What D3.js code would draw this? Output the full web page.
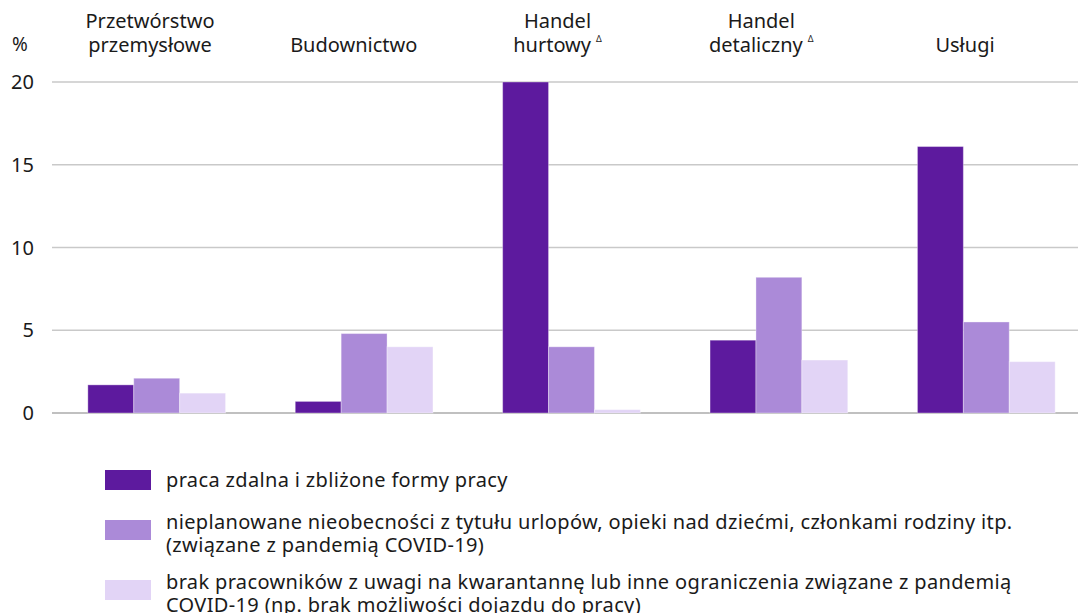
<!DOCTYPE html>
<html>
<head>
<meta charset="utf-8">
<script src="https://cdn.jsdelivr.net/npm/d3@7"></script>
<style>
  body { margin: 0; background: #fff; }
  svg text { font-family: "Noto Sans", "Open Sans", sans-serif; fill: #1a1a1a; }
</style>
</head>
<body>
<svg id="chart" width="1078" height="613"></svg>
<script>
// categories (label lines) and series
const categories = ["Przetwórstwo przemysłowe", "Budownictwo", "Handel hurtowy", "Handel detaliczny", "Usługi"];
const categoryLines = [["Przetwórstwo", "przemysłowe"], ["Budownictwo"], ["Handel", "hurtowy"], ["Handel", "detaliczny"], ["Usługi"]];
const categoryMark = [false, false, true, true, false];

const seriesNames = [
  ["praca zdalna i zbliżone formy pracy"],
  ["nieplanowane nieobecności z tytułu urlopów, opieki nad dziećmi, członkami rodziny itp.", "(związane z pandemią COVID-19)"],
  ["brak pracowników z uwagi na kwarantannę lub inne ograniczenia związane z pandemią", "COVID-19 (np. brak możliwości dojazdu do pracy)"]
];
const remoteWork = [1.7, 0.7, 20.0, 4.4, 16.1];
const absences   = [2.1, 4.8, 4.0, 8.2, 5.5];
const quarantine = [1.2, 4.0, 0.2, 3.2, 3.1];
const seriesValues = [remoteWork, absences, quarantine];
const colors = ["#5d1a9e", "#ab8ad8", "#e2d4f6"];
const yTicks = [0, 5, 10, 15, 20];

const svg = d3.select("#chart");

const x = d3.scaleBand()
    .domain(categories)
    .range([53, 1090])
    .paddingInner(0.336)
    .paddingOuter(0.168);

const xs = d3.scaleBand()
    .domain(d3.range(seriesValues.length))
    .range([0, x.bandwidth()]);

// header labels sit slightly left of the bar groups
const xl = d3.scalePoint()
    .domain(categories)
    .range([150, 965]);

const y = d3.scaleLinear()
    .domain([0, 20])
    .range([413, 82]);

// grid
svg.append("g")
  .selectAll("line")
  .data(yTicks)
  .join("line")
    .attr("x1", 52)
    .attr("x2", 1078)
    .attr("y1", d => y(d))
    .attr("y2", d => y(d))
    .attr("stroke", d => d === 0 ? "#ababab" : "#c9c9c9")
    .attr("stroke-width", 1.4);

// y labels
svg.append("g")
  .selectAll("text")
  .data(yTicks)
  .join("text")
    .attr("x", 34)
    .attr("y", d => y(d))
    .attr("dy", "0.35em")
    .attr("text-anchor", "end")
    .attr("font-size", 20)
    .text(d => d);

svg.append("text")
  .attr("x", 12)
  .attr("y", 44)
  .attr("dy", "0.35em")
  .attr("font-size", 19)
  .text("%");

// bars
const groups = svg.append("g")
  .selectAll("g")
  .data(categories)
  .join("g")
    .attr("transform", d => `translate(${x(d)},0)`);

groups.selectAll("rect")
  .data((d, i) => seriesValues.map((s, k) => ({k: k, v: s[i]})))
  .join("rect")
    .attr("x", d => xs(d.k))
    .attr("width", xs.bandwidth())
    .attr("y", d => y(d.v))
    .attr("height", d => y(0) - y(d.v))
    .attr("fill", d => colors[d.k])
    .attr("stroke", "#ffffff")
    .attr("stroke-opacity", 0.35)
    .attr("stroke-width", 1);

// category labels on top
categories.forEach((c, i) => {
  const lines = categoryLines[i];
  const t = svg.append("text")
    .attr("text-anchor", "middle")
    .attr("font-size", 20);
  const y0 = lines.length === 2 ? 28 : 52;
  lines.forEach((ln, j) => {
    t.append("tspan")
      .attr("x", xl(c))
      .attr("y", y0 + j * 24)
      .text(ln);
  });
  if (categoryMark[i]) {
    t.append("tspan")
      .attr("font-size", 9)
      .attr("dx", 5)
      .attr("dy", -10)
      .text("Δ");
  }
});

// legend
const legend = svg.append("g");
const legendY = [470, 520, 580];
seriesNames.forEach((lines, k) => {
  legend.append("rect")
    .attr("x", 105)
    .attr("y", legendY[k])
    .attr("width", 46)
    .attr("height", 20)
    .attr("fill", colors[k]);
  const t = legend.append("text")
    .attr("font-size", 20)
    .attr("letter-spacing", 0.35);
  lines.forEach((ln, j) => {
    t.append("tspan")
      .attr("x", 166)
      .attr("y", legendY[k] + 17 + j * 23 - (lines.length === 2 ? 8 : 0))
      .text(ln);
  });
});
</script>
</body>
</html>
